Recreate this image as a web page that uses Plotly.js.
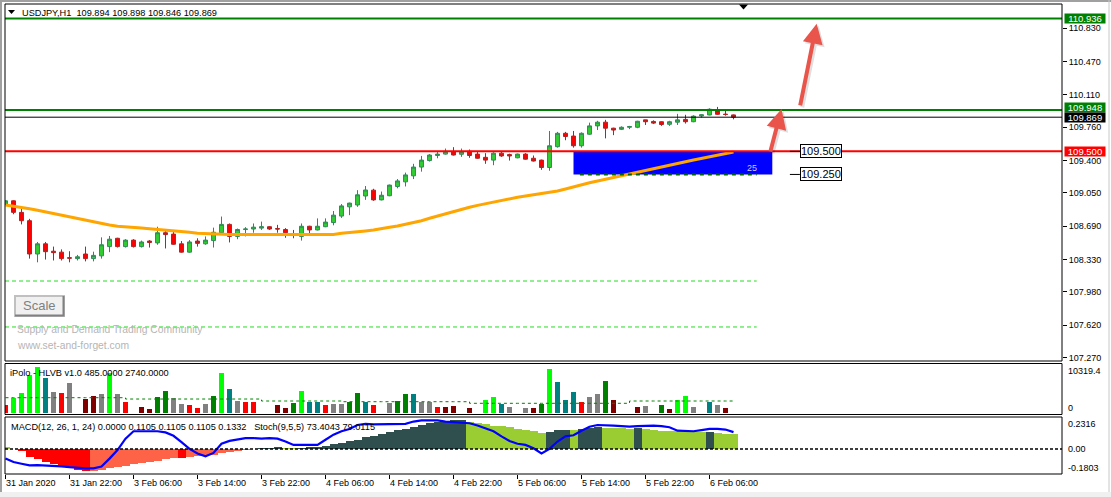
<!DOCTYPE html>
<html><head><meta charset="utf-8">
<script src="https://cdn.plot.ly/plotly-3.0.1.min.js"></script>
<style>html,body{margin:0;padding:0;background:#fff;overflow:hidden}#chart{width:1111px;height:497px}</style>
</head><body><div id="chart"></div>
<script>
// ---------------- data ----------------
const timeLabels = ["31 Jan 2020","31 Jan 22:00","3 Feb 06:00","3 Feb 14:00","3 Feb 22:00","4 Feb 06:00","4 Feb 14:00","4 Feb 22:00","5 Feb 06:00","5 Feb 14:00","5 Feb 22:00","6 Feb 06:00"];
const timeLabelBars = [0,8,16,24,32,40,48,56,64,72,80,88];
const priceTicks = [110.830,110.470,110.110,109.760,109.400,109.050,108.690,108.330,107.980,107.620,107.270];

const openP  = [108.93,108.965,108.84,108.75,108.39,108.50,108.42,108.41,108.35,108.34,108.39,108.34,108.37,108.47,108.56,108.47,108.54,108.47,108.53,108.51,108.62,108.605,108.50,108.41,108.53,108.50,108.535,108.62,108.71,108.58,108.655,108.66,108.67,108.685,108.665,108.655,108.60,108.58,108.69,108.65,108.685,108.73,108.80,108.90,108.92,109.017,109.08,108.975,109.02,109.12,109.17,109.235,109.33,109.40,109.455,109.47,109.495,109.468,109.50,109.47,109.435,109.405,109.48,109.465,109.43,109.47,109.425,109.405,109.325,109.55,109.695,109.665,109.56,109.685,109.775,109.815,109.75,109.738,109.76,109.76,109.84,109.823,109.82,109.792,109.815,109.845,109.82,109.882,109.893,109.947,109.902,109.894];
const highP  = [108.97,108.97,108.88,108.77,108.52,108.52,108.47,108.44,108.42,108.38,108.47,108.415,108.57,108.585,108.565,108.55,108.55,108.535,108.54,108.685,108.66,108.63,108.53,108.54,108.56,108.58,108.675,108.795,108.72,108.665,108.68,108.72,108.74,108.69,108.705,108.67,108.65,108.72,108.695,108.775,108.775,108.855,108.93,108.945,109.08,109.125,109.095,109.065,109.14,109.20,109.27,109.365,109.45,109.47,109.50,109.53,109.545,109.53,109.52,109.50,109.48,109.49,109.50,109.475,109.475,109.48,109.455,109.41,109.72,109.71,109.71,109.72,109.705,109.81,109.83,109.84,109.755,109.77,109.775,109.83,109.84,109.835,109.825,109.83,109.905,109.895,109.89,109.90,109.965,109.98,109.945,109.898];
const lowP   = [108.92,108.82,108.71,108.34,108.30,108.33,108.32,108.32,108.30,108.32,108.31,108.31,108.34,108.41,108.46,108.46,108.46,108.46,108.46,108.49,108.45,108.49,108.405,108.405,108.47,108.49,108.46,108.615,108.515,108.55,108.58,108.62,108.65,108.65,108.62,108.565,108.56,108.535,108.615,108.645,108.68,108.70,108.78,108.81,108.90,108.975,108.965,108.97,109.015,109.10,109.12,109.20,109.28,109.39,109.425,109.465,109.455,109.44,109.43,109.42,109.365,109.35,109.44,109.40,109.425,109.41,109.39,109.30,109.29,109.54,109.62,109.54,109.54,109.68,109.73,109.64,109.675,109.73,109.74,109.75,109.785,109.795,109.775,109.775,109.785,109.80,109.815,109.865,109.89,109.895,109.885,109.846];
const closeP = [108.965,108.84,108.75,108.39,108.50,108.415,108.405,108.34,108.345,108.36,108.34,108.375,108.49,108.55,108.47,108.54,108.47,108.52,108.515,108.62,108.60,108.495,108.41,108.52,108.505,108.54,108.625,108.71,108.58,108.655,108.66,108.68,108.685,108.66,108.66,108.62,108.59,108.69,108.65,108.69,108.735,108.81,108.91,108.94,109.03,109.082,108.975,109.025,109.135,109.18,109.245,109.33,109.405,109.46,109.47,109.50,109.46,109.496,109.455,109.425,109.405,109.48,109.45,109.45,109.47,109.415,109.395,109.325,109.56,109.695,109.66,109.56,109.695,109.775,109.815,109.75,109.73,109.76,109.768,109.825,109.82,109.805,109.79,109.82,109.84,109.82,109.88,109.895,109.955,109.90,109.898,109.869];
const movingAvg = [108.920,108.909,108.895,108.880,108.862,108.844,108.822,108.804,108.790,108.772,108.750,108.733,108.714,108.703,108.689,108.685,108.682,108.671,108.663,108.657,108.649,108.639,108.631,108.625,108.614,108.609,108.603,108.601,108.601,108.601,108.601,108.601,108.601,108.601,108.601,108.601,108.601,108.601,108.601,108.601,108.601,108.601,108.614,108.620,108.631,108.639,108.649,108.660,108.679,108.693,108.711,108.728,108.750,108.776,108.801,108.822,108.847,108.873,108.895,108.916,108.934,108.952,108.974,108.988,109.003,109.017,109.031,109.042,109.053,109.071,109.093,109.118,109.143,109.161,109.179,109.198,109.219,109.244,109.262,109.280,109.298,109.316,109.334,109.352,109.371,109.388,109.406,109.425,109.442,109.460,109.479,109.493];

const volume = [1700,3300,4500,8350,10150,7700,4650,4300,6600,null,3000,3800,4100,8700,4100,2500,null,1400,1000,3500,4900,3350,2100,1850,1200,2100,3650,8750,5300,2700,2400,2400,null,null,1900,1200,2300,4900,2500,2500,1700,2100,2100,2500,4500,2550,1700,null,2300,2700,4200,4200,2350,2500,1400,1400,1600,null,1200,null,2900,3600,2100,1400,null,1200,1200,2100,9650,6800,2900,4650,2500,3600,4100,7050,2850,null,null,1400,1600,null,1850,1000,2900,3800,1400,null,2350,1850,1200,null];
const volumeClass = "RLLLLTARA-MMALAR-MMGGAARRAGLTARR--MMGLTTRAAGGTR-AGGTAARMM-M-LLTA-AMGLTTTRAAGM--MA-GMLLA-TAM-";
const volumeAvg = [3385,3385,3385,3385,3385,3385,3385,3385,3385,3385,3385,3385,3385,3385,3385,3100,3100,3100,3100,3100,3100,3100,3100,3100,3100,3100,3100,3100,3100,3100,3100,3100,2670,2670,2670,2670,2670,2670,2670,2670,2670,2670,2520,2520,2520,2520,2520,2520,2520,2520,2520,2520,2520,2520,2520,2520,2520,2520,2170,2170,2170,2170,2170,2170,2170,2170,2170,2170,2170,2170,2170,2170,2170,2170,2170,2170,2170,2170,2670,2670,2670,2670,2670,2670,2670,2670,2670,2670,2670,2670,2670,2670];

const macdHist = [0.015,-0.003,-0.017,-0.06,-0.075,-0.09,-0.11,-0.13,-0.14,-0.15,-0.16,-0.158,-0.148,-0.139,-0.13,-0.12,-0.11,-0.10,-0.09,-0.083,-0.075,-0.064,-0.068,-0.06,-0.053,-0.046,-0.041,-0.032,-0.024,-0.015,-0.01,-0.003,0.005,0.007,0.015,0.01,0.007,0.01,0.015,0.017,0.024,0.034,0.044,0.056,0.068,0.085,0.097,0.11,0.124,0.136,0.146,0.158,0.173,0.185,0.195,0.202,0.207,0.208,0.197,0.185,0.178,0.17,0.163,0.158,0.148,0.141,0.134,0.119,0.122,0.136,0.141,0.136,0.148,0.153,0.158,0.153,0.151,0.150,0.148,0.153,0.144,0.139,0.134,0.131,0.129,0.128,0.125,0.120,0.123,0.119,0.112,0.1105];
const stochMain = [27,21,18,15,15.5,15,14.5,13.5,12,10.5,10,10,13,27,42,62,75,75,75,75,73,67,56,44,36,31,37,53,58,61,63,63,62,63,62,57,51,51,51,51,60,69,75,79,86,88,87,87,87,87,88,92,94,94,94,92,91,91,89,85,80,75,66,58,53,51,45,36,44,57,66,68,76,83,86,86,85,84,83,84,85,85,84,82,76,75,75,77,79,79,78,73.4];

const levelLines = [110.936, 109.948, 109.869, 109.500];
const dashedLevels = [108.098, 107.601];
const zone = {top: 109.500, bottom: 109.250, startBar: 71, endBar: 95.85, count: "25"};

// ---------------- geometry helpers ----------------
const PL = 5, PR = 1062, PT = 4, PB = 474;
const px = x => (x - PL) / (PR - PL);
const py = y => (PB - y) / (PB - PT);
const FONT = "Liberation Sans, Arial, sans-serif";
const idx = openP.map((_, i) => i);
const domMain = [py(361), 1], domVol = [py(414.5), py(363.5)], domMacd = [0, py(417)];

const volColors = {L:'#00ff00', G:'#008000', T:'#008080', A:'#808080', R:'#ff0000', M:'#800000', '-':'rgba(0,0,0,0)'};
const vCols = volumeClass.split('').map(c => volColors[c]);
const hCols = macdHist.map((v, i) => {
  const up = i > 0 ? v > macdHist[i-1] : false;
  if (v >= 0) return up ? '#2f4f4f' : '#9acd32';
  return up ? '#ff6347' : '#ff0000';
});

const traces = [
  {type:'scatter', mode:'lines', x:idx, y:movingAvg, xaxis:'x', yaxis:'y', line:{color:'#ffa500', width:3}, hoverinfo:'skip'},
  {type:'candlestick', x:idx, open:openP, high:highP, low:lowP, close:closeP, xaxis:'x', yaxis:'y',
   increasing:{line:{color:'#2e8b57', width:1}, fillcolor:'#32cd32'},
   decreasing:{line:{color:'#b22222', width:1}, fillcolor:'#ff0000'}, whiskerwidth:0, hoverinfo:'skip'},
  {type:'bar', x:idx, y:volume, xaxis:'x', yaxis:'y2', width:0.62, marker:{color:vCols, line:{width:0}}, hoverinfo:'skip'},
  {type:'scatter', mode:'lines', x:idx, y:volumeAvg, xaxis:'x', yaxis:'y2', line:{color:'#008000', width:1, dash:'3px,3px', shape:'hv'}, hoverinfo:'skip'},
  {type:'bar', x:idx, y:macdHist, xaxis:'x', yaxis:'y3', width:1, marker:{color:hCols, line:{width:0}}, hoverinfo:'skip'},
  {type:'scatter', mode:'lines', x:idx, y:stochMain, xaxis:'x', yaxis:'y4', line:{color:'#0000ff', width:2.2}, hoverinfo:'skip'}
];

const shapes = [];
// level lines
const levelStyle = [{c:'#008000', w:2}, {c:'#008000', w:2}, {c:'#000000', w:1}, {c:'#ff0000', w:2}];
levelLines.forEach((v, i) => shapes.push({type:'line', xref:'paper', x0:0, x1:1, yref:'y', y0:v, y1:v, line:{color:levelStyle[i].c, width:levelStyle[i].w}}));
dashedLevels.forEach(v => shapes.push({type:'line', xref:'x', x0:-0.0625, x1:93.9, yref:'y', y0:v, y1:v, line:{color:'#22dd22', width:1, dash:'4px,3px'}}));
// zone
shapes.push({type:'rect', xref:'x', x0:zone.startBar, x1:zone.endBar, yref:'y', y0:zone.bottom, y1:zone.top, fillcolor:'#0000ff', line:{width:0}, layer:'below'});
shapes.push({type:'line', xref:'x', x0:zone.startBar+0.8, x1:93.9, yref:'y', y0:zone.bottom, y1:zone.bottom, line:{color:'#006400', width:2, dash:'4px,4px'}});
[zone.top, zone.bottom].forEach(v => shapes.push({type:'line', xref:'x', x0:98.05, x1:99.3, yref:'y', y0:v, y1:v, line:{color:'#000', width:1}}));
// MACD zero line
shapes.push({type:'line', xref:'paper', x0:0, x1:1, yref:'y3', y0:0, y1:0, line:{color:'#000', width:1.5, dash:'3px,2px'}});
// panel frames
[[PT,361],[363.5,414.5],[417,474]].forEach(([a,b]) => shapes.push({type:'rect', xref:'paper', yref:'paper', x0:0, x1:1, y0:py(b), y1:py(a), line:{color:'#000', width:1}, fillcolor:'rgba(0,0,0,0)'}));
// outer window frame
shapes.push({type:'rect', xref:'paper', yref:'paper', x0:px(0), x1:px(1111), y0:py(497), y1:py(492), fillcolor:'#f0f0f0', line:{width:0}});
shapes.push({type:'line', xref:'paper', yref:'paper', x0:px(0), x1:px(1111), y0:py(1), y1:py(1), line:{color:'#a0a0a0', width:2}});
shapes.push({type:'line', xref:'paper', yref:'paper', x0:px(1), x1:px(1), y0:py(0), y1:py(492), line:{color:'#a0a0a0', width:2}});
shapes.push({type:'line', xref:'paper', yref:'paper', x0:px(1109), x1:px(1109), y0:py(0), y1:py(492), line:{color:'#c8c8c8', width:1}});
// triangles
const tri = (cx, top, w, h) => `M ${px(cx-w/2)} ${py(top)} L ${px(cx+w/2)} ${py(top)} L ${px(cx)} ${py(top+h)} Z`;
shapes.push({type:'path', xref:'paper', yref:'paper', path:tri(11.5, 10, 7, 4), fillcolor:'#000', line:{width:0}});
shapes.push({type:'path', xref:'paper', yref:'paper', path:tri(743.5, 4.5, 9, 5), fillcolor:'#000', line:{width:0}});
// Scale button
shapes.push({type:'rect', xref:'paper', yref:'paper', x0:px(15), x1:px(64), y0:py(316), y1:py(296), fillcolor:'#f0f0f0', line:{color:'#c0c0c0', width:2}});
shapes.push({type:'path', xref:'paper', yref:'paper', path:`M ${px(15)} ${py(315.5)} L ${px(63.5)} ${py(315.5)} L ${px(63.5)} ${py(296)}`, line:{color:'#808080', width:2}});

const ann = [];
const txt = (x, y, t, size, color, extra) => ann.push(Object.assign({xref:'paper', yref:'paper', x:px(x), y:py(y), text:t, showarrow:false, xanchor:'left', yanchor:'middle', font:{family:FONT, size:size, color:color}}, extra||{}));
txt(20, 12.5, 'USDJPY,H1  ' + [openP[91], highP[91], lowP[91], closeP[91]].map(v => v.toFixed(3)).join(' '), 9.2, '#000');
txt(8, 372.5, 'iPolo - HLVB v1.0 485.0000 2740.0000', 9.2, '#000');
txt(9, 427, 'MACD(12, 26, 1, 24) 0.0000 0.1105 0.1105 0.1105 0.1332   Stoch(9,5,5) 73.4043 79.0115', 9.2, '#000');
txt(15, 329.5, 'Supply and Demand Trading Community', 10.3, '#b5b5b5');
txt(15, 345, 'www.set-and-forget.com', 10.3, '#b5b5b5');
txt(39.5, 306, 'Scale', 13, '#7f7f7f', {xanchor:'center'});
// zone labels
ann.push({xref:'x', yref:'y', x:zone.endBar - 2.5, y:(zone.top + zone.bottom)/2, yshift:-5, text:zone.count, showarrow:false, font:{family:FONT, size:9, color:'#c8c8ff'}});
[zone.top, zone.bottom].forEach(v => ann.push({xref:'x', yref:'y', x:99.3, y:v, xanchor:'left', yanchor:'middle', text:v.toFixed(3), showarrow:false, bgcolor:'#fff', bordercolor:'#000', borderwidth:1, borderpad:0, font:{family:FONT, size:11, color:'#000'}}));
// highlighted price labels on the right axis
const boxCols = ['#008000', '#008000', '#000000', '#ff0000'];
const boxShift = [0, 2, -0.5, 0];
levelLines.forEach((v, i) => ann.push({xref:'paper', yref:'y', x:1, xshift:2, yshift:boxShift[i], y:v, xanchor:'left', yanchor:'middle', text:v.toFixed(3), showarrow:false, bgcolor:boxCols[i], borderpad:0, height:9, width:40, font:{family:FONT, size:9.5, color:'#fff'}}));
// indicator panel scale labels
txt(1066, 371, '10319.4', 9, '#000');
txt(1066, 408, '0', 9, '#000');
txt(1066, 424.3, '0.2316', 9, '#000');
txt(1066, 449.3, '0.00', 9, '#000');
txt(1066, 467.7, '-0.1803', 9, '#000');
// arrows (soft shadow first, then arrow)
const arrow = (tx, ty, hx, hy, color, dx, dy) => ann.push({xref:'x', yref:'y', axref:'x', ayref:'y', x:hx, y:hy, ax:tx, ay:ty, xshift:dx, yshift:dy, text:'', showarrow:true, arrowhead:2, arrowsize:1, arrowwidth:4, arrowcolor:color, standoff:0});
arrow(95.56, 109.482, 97.0, 109.958, 'rgba(0,0,0,0.12)', 2, -2);
arrow(99.3, 109.98, 101.4, 110.88, 'rgba(0,0,0,0.12)', 2, -2);
arrow(95.56, 109.482, 97.0, 109.958, '#e9554b', 0, 0);
arrow(99.3, 109.98, 101.4, 110.88, '#e9554b', 0, 0);

const layout = {
  width:1111, height:497, margin:{l:PL, r:1111-PR, t:PT, b:497-PB, pad:0},
  paper_bgcolor:'#fff', plot_bgcolor:'#fff', showlegend:false, hovermode:false, bargap:0,
  font:{family:FONT, size:9, color:'#000'},
  xaxis:{anchor:'y3', range:[-0.0625, 132.0625], tickvals:timeLabelBars, ticktext:timeLabels, ticks:'outside', ticklen:4, tickcolor:'#000',
         ticklabelposition:'outside right', tickfont:{family:FONT, size:9, color:'#000'}, showgrid:false, zeroline:false, showline:false, rangeslider:{visible:false}, fixedrange:true},
  yaxis:{domain:domMain, anchor:'x', side:'right', range:[107.2332, 111.0927], tickvals:priceTicks, ticktext:priceTicks.map(v => v.toFixed(3)),
         ticks:'outside', ticklen:4, tickcolor:'#000', tickfont:{family:FONT, size:9, color:'#000'}, showgrid:false, zeroline:false, showline:false, fixedrange:true},
  yaxis2:{domain:domVol, anchor:'x', range:[-260, 10807], showticklabels:false, ticks:'', showgrid:false, zeroline:false, showline:false, fixedrange:true},
  yaxis3:{domain:domMacd, anchor:'x', range:[-0.1803, 0.2316], showticklabels:false, ticks:'', showgrid:false, zeroline:false, showline:false, fixedrange:true},
  yaxis4:{overlaying:'y3', anchor:'x', range:[0, 100], visible:false, showgrid:false, zeroline:false, fixedrange:true},
  shapes:shapes, annotations:ann
};
Plotly.newPlot('chart', traces, layout, {staticPlot:true, displayModeBar:false});
</script></body></html>
